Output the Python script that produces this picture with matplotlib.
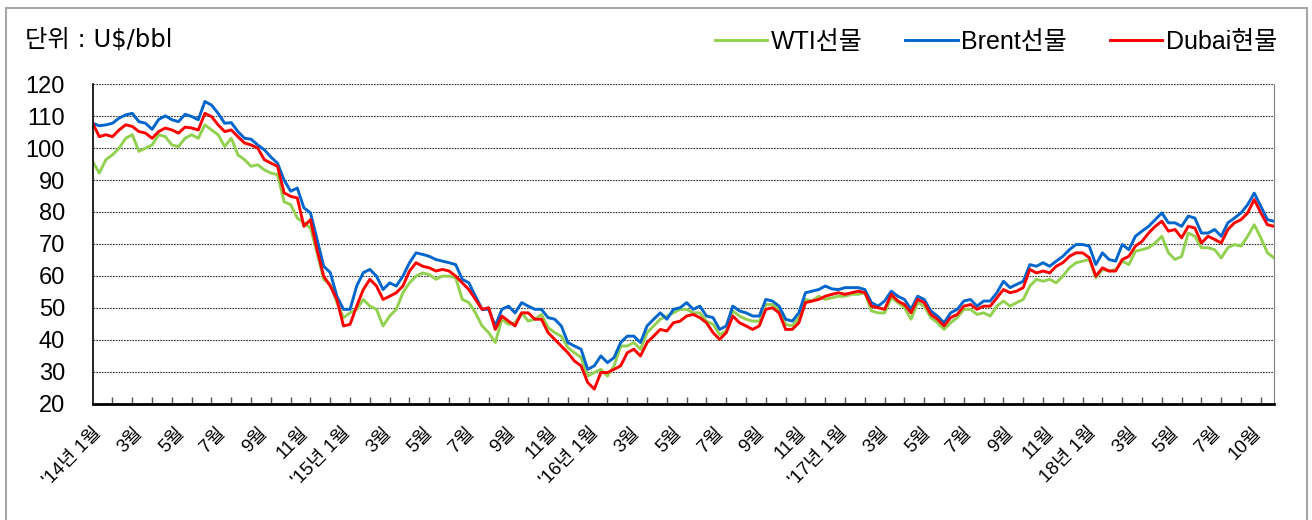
import matplotlib.pyplot as plt
import numpy as np
from matplotlib.patches import Rectangle

plt.rcParams['font.family'] = ['Liberation Sans', 'Noto Sans CJK KR', 'DejaVu Sans']

# values, 3 samples per tick interval (U$/bbl)
wti = [95.8, 92.2, 96.4, 97.9, 100, 103.1, 104.2, 99, 100, 101, 104.2, 103.6, 101, 100.5, 103.1,
       104.2, 103.1, 107.3, 105.7, 104.2, 100.5, 103.1, 97.9, 96.4, 94.3, 94.8, 93.2, 92.2, 91.7, 83.2,
       82.3, 78.1, 76.6, 75, 67.2, 58.9, 57.3, 51.6, 46.9, 48.4, 49.5, 52.6, 50.5, 49.5, 44.3,
       47.4, 49.5, 54.7, 57.8, 59.9, 60.9, 60.4, 58.9, 59.9, 59.9, 59.4, 52.6, 51.6, 48.4, 44.3,
       42.2, 39.1, 46.4, 44.8, 45.3, 48.4, 45.8, 46.4, 47.9, 43.8, 42.2, 41.1, 37.5, 35.9, 34.4,
       28.6, 29.7, 30.7, 28.6, 31.8, 38, 38, 39.1, 37, 42.2, 44.3, 46.4, 47.4, 48.4, 49.5,
       49.5, 48.4, 48.4, 45.8, 44.8, 41.6, 42.7, 49, 47.4, 46.4, 45.8, 45.8, 51, 51, 49.5,
       44.8, 44.3, 46.9, 52.6, 52.1, 53.6, 52.6, 53.1, 53.6, 53.6, 54.2, 54.2, 54.7, 49, 48.4,
       48.4, 53.1, 51.6, 50, 46.4, 51.6, 50.5, 46.9, 45.3, 43.2, 45.3, 46.9, 49.5, 49.5, 47.9,
       48.4, 47.4, 50.5, 52.1, 50.5, 51.6, 52.6, 56.8, 58.9, 58.3, 58.9, 57.8, 59.9, 62.5, 64.1,
       64.6, 65.1, 59.4, 62, 61.5, 62, 64.6, 63.5, 67.7, 68.2, 68.8, 70.3, 72.4, 67.2, 65.1,
       66.1, 73.4, 72.4, 68.8, 68.8, 68.2, 65.6, 68.8, 69.8, 69.3, 72.4, 76, 71.9, 67.2, 65.6]

brent = [107.8, 107, 107.3, 107.8, 109.4, 110.4, 110.9, 108.3, 107.8, 105.9, 109, 110.1, 108.9, 108.3, 110.6,
         109.9, 108.9, 114.6, 113.5, 110.9, 107.8, 108, 105.2, 103.1, 102.8, 101, 99.5, 97.2, 95.3, 90,
         86.5, 87.5, 81.3, 79.7, 71.4, 63, 61, 53.6, 49.5, 49.5, 56.8, 61, 62, 59.9, 55.7,
         57.8, 56.8, 59.9, 64.1, 67.2, 66.7, 66.1, 65.1, 64.6, 64.1, 63.5, 58.9, 57.8, 53.6, 49.5,
         49.5, 44.3, 49.5, 50.5, 48.4, 51.6, 50.5, 49.5, 49.5, 46.9, 46.4, 44.3, 39.1, 38, 37,
         30.7, 31.8, 34.9, 32.8, 34.4, 39.1, 41.1, 41.1, 39.1, 44.3, 46.4, 48.4, 46.4, 49.5, 50,
         51.6, 49.5, 50.5, 47.4, 46.9, 43.2, 44.3, 50.5, 49, 48.4, 47.4, 47.4, 52.6, 52.1, 50.5,
         46.4, 45.8, 48.4, 54.7, 55.2, 55.7, 56.8, 55.9, 55.7, 56.3, 56.3, 56.3, 55.7, 51.6, 50.5,
         52.1, 55.2, 53.6, 52.6, 49.5, 53.6, 52.6, 49, 47.4, 45.3, 48.4, 49.5, 52.1, 52.6, 50.5,
         52.1, 52.1, 54.7, 58.3, 56.3, 57.3, 58.3, 63.5, 63, 64.1, 63, 64.6, 66.1, 68.2, 69.8,
         69.8, 69.3, 63.5, 67.2, 65.1, 64.6, 69.8, 68.2, 72.4, 74, 75.5, 77.6, 79.7, 76.6, 76.6,
         75.5, 78.7, 78.1, 73.4, 73.4, 74.5, 72.4, 76.6, 78.1, 79.7, 82.3, 85.9, 81.8, 77.6, 77.1]

dubai = [107.8, 103.6, 104.2, 103.6, 105.7, 107.3, 106.8, 105.2, 104.7, 103.1, 105.2, 106.3, 105.7, 104.7, 106.6,
         106.3, 105.7, 110.9, 109.9, 107.3, 105.2, 105.7, 103.6, 101.6, 101, 100, 96.4, 95.3, 94.3, 86,
         84.9, 84.4, 75.5, 77.6, 68.1, 59.9, 56.8, 52.6, 44.3, 44.8, 50.5, 55.7, 58.9, 56.8, 52.6,
         53.6, 54.7, 56.8, 61.5, 64.1, 63, 62.5, 61.5, 62, 61.5, 59.9, 57.8, 55.7, 52.6, 49.5,
         50, 43.2, 47.4, 45.8, 44.3, 48.4, 48.4, 46.4, 46.4, 42.2, 40.1, 38, 35.9, 33.3, 31.8,
         26.6, 24.5, 29.7, 29.7, 30.7, 31.8, 35.9, 37, 34.9, 39.1, 41.1, 43.2, 42.7, 45.3, 45.8,
         47.4, 47.9, 46.9, 45.3, 42.2, 40.1, 42.2, 47.4, 45.3, 44.3, 43.2, 44.3, 49.5, 50, 48.4,
         43.2, 43.2, 45.3, 51.6, 52.1, 52.6, 53.6, 54.2, 54.7, 54.2, 54.7, 55.2, 54.7, 50.5, 50,
         49.5, 54.2, 52.1, 51, 48.4, 52.6, 51.6, 47.9, 46.4, 44.3, 46.9, 47.9, 50.5, 51, 49.5,
         50.5, 50.5, 53.1, 55.7, 54.7, 55.2, 56.3, 62, 60.9, 61.5, 60.9, 63, 64.1, 66.1, 67.2,
         67.2, 65.7, 59.9, 62.5, 61.5, 61.5, 65.1, 66.1, 69.3, 70.8, 73.4, 75.5, 77.1, 74, 74.5,
         71.9, 75.5, 75, 70.3, 72.4, 71.4, 70.3, 74.5, 76.6, 77.6, 79.7, 83.9, 79.7, 76, 75.5]

tick_labels = ["'14년 1월", '3월', '5월', '7월', '9월', '11월',
               "'15년 1월", '3월', '5월', '7월', '9월', '11월',
               "'16년 1월", '3월', '5월', '7월', '9월', '11월',
               "'17년 1월", '3월', '5월', '7월', '9월', '11월',
               '18년 1월', '3월', '5월', '7월', '10월']

x = np.arange(len(wti)) / 3

fig = plt.figure(figsize=(13.12, 5.2), dpi=100)
ax = fig.add_axes([92.7 / 1312, (520 - 403.5) / 520, (1273.5 - 92.7) / 1312, (403.5 - 84.3) / 520])

ax.plot(x, wti, color='#92D050', lw=2.1, label='WTI선물')
ax.plot(x, brent, color='#0066CC', lw=2.1, label='Brent선물')
ax.plot(x, dubai, color='#FF0000', lw=2.1, label='Dubai현물')

ax.set_xlim(0, 59.64)
ax.set_ylim(20, 120)
ax.set_yticks(range(20, 121, 10))
ax.tick_params(axis='y', length=0, pad=20, labelsize=17)
ax.grid(axis='y', color='#333333', linestyle=(0, (1.5, 1)), lw=0.8)

# labels every ~2 ticks, monthly tick marks
ax.set_xticks(np.arange(len(tick_labels)) * 2.093)
ax.set_xticklabels(tick_labels, rotation=45, ha='right', va='top', rotation_mode='anchor', fontsize=13.5)
ax.tick_params(axis='x', which='major', length=0, pad=15)
ax.set_xticks(np.arange(0, 60), minor=True)
ax.tick_params(axis='x', which='minor', direction='in', length=5, width=1, color='#555555')

ax.spines['top'].set_visible(False)
ax.spines['right'].set_color('#808080')
ax.spines['left'].set_linewidth(1.2)
ax.spines['bottom'].set_linewidth(2)

fig.text(25 / 1312, (520 - 40) / 520, '단위 : U$/bbl', fontsize=17.5, va='center', ha='left',
         family=['DejaVu Sans', 'Noto Sans CJK KR'])
ax.legend(loc='center right', bbox_to_anchor=(1277 / 1312, (520 - 42) / 520),
          bbox_transform=fig.transFigure, ncol=3, frameon=False, fontsize=18,
          handlelength=2.1, handletextpad=0.15, columnspacing=1.7, borderpad=0, borderaxespad=0)

fig.patches.append(Rectangle((5.5 / 1312, -0.1), 1301 / 1312, (512 / 520) + 0.1,
                             transform=fig.transFigure, fill=False, edgecolor='#a6a6a6', lw=1.5))

fig.savefig('out.png', dpi=100)
